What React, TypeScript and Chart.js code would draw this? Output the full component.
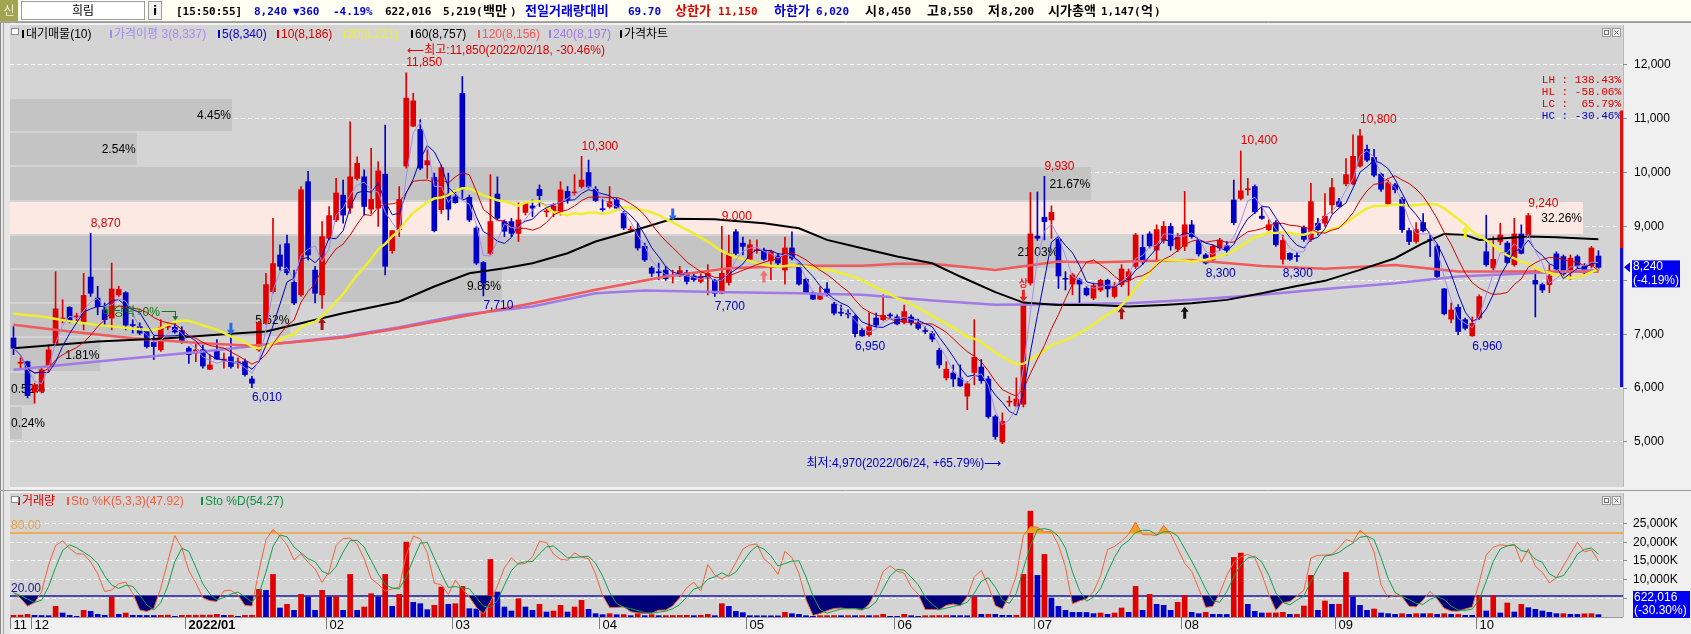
import React, { useEffect, useRef } from 'react';
import { Chart, registerables } from 'chart.js';

Chart.register(...registerables);

// ---------------- DATA ----------------
const monthLabels = ['11', '12', '2022/01', '02', '03', '04', '05', '06', '07', '08', '09', '10'];
const monthDays = [3, 22, 20, 18, 21, 21, 21, 20, 21, 22, 20, 18];

const opens = [
  6930, 6460, 6490, 5930, 5940, 6410, 6830, 7280, 7500, 7320,
  7220, 8060, 7670, 7450, 7300, 7730, 7770, 7170, 7140, 7050,
  6850, 6710, 7130, 7130, 7070, 6740, 6650, 6710, 6350, 6680,
  6520, 6580, 6470, 6490, 6170, 6710, 7210, 7790, 8470, 8680,
  7960, 7730, 9830, 8190, 7730, 8780, 9120, 9580, 9340, 9890,
  9920, 9320, 9340, 9970, 8550, 8940, 10120, 10860, 10800, 10140,
  9910, 9310, 9600, 9550, 11470, 9540, 8970, 8330, 8500, 9600,
  9090, 9090, 8870, 9260, 9380, 9690, 9270, 9280, 9280, 9650,
  9620, 9740, 10000, 9690, 9320, 9370, 9490, 9240, 8930, 8940,
  8630, 8230, 8150, 8190, 8080, 8080, 8140, 8080, 7980, 8040,
  8000, 7760, 7960, 8900, 8690, 8390, 8550, 8560, 8360, 8450,
  8190, 8600, 8300, 8020, 7770, 7650, 7840, 7560, 7400, 7380,
  7330, 7070, 6990, 7300, 7270, 7350, 7320, 7220, 7320, 7210,
  7060, 7010, 6700, 6190, 6280, 6190, 5850, 6290, 6390, 6170,
  5470, 5000, 5740, 5670, 5700, 7950, 8820, 9170, 9120, 8760,
  8030, 7930, 8010, 7850, 7670, 7820, 8000, 7700, 7920, 8010,
  8260, 8610, 8860, 8560, 8740, 9000, 8580, 8630, 9030, 8740,
  8470, 8390, 8600, 8640, 9490, 9520, 9680, 9740, 9190, 8940,
  9070, 8390, 8500, 8450, 8980, 8760, 9060, 9060, 9400, 9460,
  9790, 9790, 10120, 10430, 10280, 9970, 9420, 9770, 9500, 8920,
  8720, 9070, 8750, 8630, 7840, 7280, 7500, 7270, 6970, 7300,
  8530, 8230, 8720, 8690, 8290, 8860, 8840, 8000, 7920, 7920,
  8490, 8440, 8180, 8440, 8260, 8270, 8450,
];
const highs = [
  7140, 6560, 6500, 6090, 6370, 6800, 8160, 7640, 7510, 7390,
  8130, 8870, 7890, 7580, 8320, 7890, 7790, 7270, 7210, 7080,
  6960, 7270, 7210, 7240, 7140, 6770, 6820, 6800, 6620, 6900,
  6650, 6990, 6560, 6540, 6220, 7240, 8130, 9150, 8660, 8840,
  8190, 9740, 10020, 8260, 9090, 9370, 9890, 9860, 10940, 10290,
  10050, 10450, 10200, 10880, 8920, 9740, 11850, 11470, 10980, 10420,
  9990, 10140, 9990, 9680, 11780, 9580, 9000, 8350, 9960, 9920,
  9120, 9150, 9440, 9440, 9490, 9770, 9340, 9430, 9830, 9740,
  9960, 10300, 10230, 9740, 9500, 9740, 9520, 9280, 9000, 9060,
  8690, 8260, 8320, 8260, 8190, 8260, 8190, 8130, 8120, 8290,
  8020, 9000, 8840, 8940, 8800, 8750, 8750, 8600, 8560, 8500,
  8800, 8900, 8320, 8040, 7790, 7880, 7960, 7590, 7540, 7450,
  7360, 7110, 7400, 7390, 7730, 7390, 7360, 7540, 7360, 7280,
  7140, 7050, 6740, 6490, 6430, 6430, 6120, 7270, 6530, 6220,
  5500, 5540, 5850, 6190, 7540, 9630, 9640, 9930, 9380, 8810,
  8160, 8130, 8040, 7880, 7950, 8020, 8020, 7960, 8290, 8210,
  8870, 8840, 8900, 9030, 9090, 9060, 8870, 9650, 9110, 8760,
  8500, 8660, 8780, 8720, 9860, 10400, 9890, 9770, 9380, 9120,
  9110, 8840, 8510, 8510, 9010, 9800, 9150, 9610, 9890, 9520,
  10260, 10700, 10800, 10510, 10430, 9990, 9860, 9800, 9540, 8970,
  9070, 9240, 8840, 8660, 7850, 7580, 7550, 7300, 7320, 7730,
  9210, 8810, 9060, 8720, 9150, 9030, 9240, 8190, 7950, 8290,
  8530, 8470, 8470, 8470, 8310, 8630, 8550,
];
const lows = [
  6620, 6370, 5820, 5720, 5910, 6310, 6800, 7210, 7210, 7240,
  7080, 7700, 7360, 7140, 7080, 7700, 7080, 7020, 6990, 6740,
  6530, 6680, 7080, 7020, 6830, 6460, 6490, 6370, 6340, 6530,
  6370, 6370, 6370, 6220, 6010, 6680, 7180, 7760, 8190, 8100,
  7550, 7700, 8380, 7580, 7480, 8750, 9090, 9060, 9240, 9860,
  9210, 9240, 9000, 8100, 8500, 8810, 10080, 10850, 10050, 9890,
  8900, 9240, 9120, 9430, 9520, 9090, 8290, 7710, 8470, 9120,
  8810, 8810, 8720, 9210, 9180, 9370, 9180, 9180, 9210, 9430,
  9580, 9710, 9710, 9460, 9280, 9340, 9290, 8940, 8900, 8560,
  8350, 8070, 8010, 8000, 7950, 8070, 7930, 7980, 7950, 7730,
  7700, 7750, 7910, 8470, 8470, 8380, 8500, 8370, 8010, 8290,
  7930, 8380, 7910, 7750, 7640, 7640, 7700, 7360, 7340, 7300,
  6950, 6960, 6960, 7140, 7250, 7300, 7170, 7190, 7170, 7080,
  7010, 6860, 6370, 6150, 6030, 6030, 5600, 6060, 6090, 5440,
  5050, 4970, 5660, 5650, 5650, 7910, 8740, 8750, 8780, 7850,
  7820, 7730, 7560, 7710, 7640, 7790, 7690, 7670, 7880, 7700,
  8220, 8290, 8600, 8380, 8690, 8560, 8530, 8550, 8780, 8450,
  8300, 8350, 8550, 8470, 9030, 9490, 9580, 9240, 9130, 8920,
  8630, 8300, 8370, 8350, 8720, 8720, 8840, 9000, 9240, 9360,
  9750, 9770, 10100, 10200, 9920, 9650, 9380, 9620, 8890, 8660,
  8690, 8900, 8440, 8040, 7360, 7210, 6990, 7080, 6960, 7270,
  8260, 8190, 8660, 8310, 8260, 8490, 8810, 7320, 7770, 7770,
  8180, 8070, 8020, 8230, 8100, 8230, 8200,
];
const closes = [
  6740, 6480, 5860, 6050, 6340, 6710, 7470, 7300, 7240, 7330,
  7720, 7760, 7510, 7270, 7840, 7830, 7170, 7160, 7020, 6770,
  6770, 7130, 7140, 7040, 6870, 6620, 6710, 6410, 6430, 6540,
  6530, 6400, 6480, 6250, 6090, 7210, 7920, 8310, 8260, 8140,
  7580, 9680, 8470, 7760, 8810, 9200, 9620, 9210, 9920, 10170,
  9370, 9500, 10030, 8260, 8920, 9500, 11380, 11330, 10080, 10220,
  8920, 10090, 9320, 9440, 9680, 9120, 8320, 7950, 9090, 9150,
  8910, 8870, 9120, 9430, 9340, 9570, 9280, 9380, 9680, 9500,
  9630, 9860, 9740, 9480, 9310, 9460, 9340, 8970, 8940, 8600,
  8380, 8130, 8140, 8030, 8090, 8180, 7980, 8010, 8060, 8130,
  7760, 8130, 8490, 8500, 8630, 8660, 8560, 8390, 8530, 8320,
  8600, 8410, 7930, 7770, 7650, 7730, 7730, 7390, 7390, 7370,
  7010, 6970, 7140, 7170, 7350, 7340, 7190, 7420, 7210, 7110,
  7050, 6910, 6430, 6350, 6170, 6040, 6080, 6570, 6140, 5470,
  5100, 5380, 5750, 5800, 7540, 8860, 8780, 9090, 9260, 8080,
  8020, 8100, 7930, 7730, 7900, 8000, 7840, 7880, 8210, 8160,
  8840, 8380, 8640, 8940, 9000, 8640, 8800, 9030, 8810, 8490,
  8320, 8630, 8750, 8560, 9070, 9660, 9690, 9270, 9150, 9030,
  8660, 8740, 8390, 8440, 8760, 9460, 8940, 9190, 9720, 9370,
  9960, 10300, 10680, 10230, 9950, 9690, 9810, 9680, 8940, 8720,
  8940, 8920, 8740, 8070, 7380, 7450, 7050, 7110, 7200, 7700,
  8290, 8390, 8840, 8330, 8860, 8500, 9200, 7930, 7820, 8080,
  8210, 8120, 8410, 8270, 8140, 8600, 8240,
];
// volume in thousands of shares
const volumesK = [
  445, 490, 712, 445, 400, 356, 2848, 1068, 445, 178,
  1780, 1513, 712, 445, 5340, 712, 1068, 445, 427, 409,
  391, 445, 490, 178, 445, 463, 481, 499, 517, 712,
  445, 463, 178, 445, 463, 7387, 7120, 11392, 2403, 3382,
  1780, 6052, 5340, 1780, 7120, 5340, 5430, 1780, 11392, 1780,
  2670, 6230, 5340, 11392, 2848, 6052, 20025, 3916, 3560, 1958,
  3115, 8010, 3382, 3560, 8188, 2225, 2136, 5162, 15397, 6675,
  2670, 1602, 4895, 2670, 1780, 3382, 1335, 1602, 3115, 1335,
  2670, 4450, 2047, 890, 623, 890, 623, 650, 356, 890,
  356, 623, 356, 380, 400, 420, 440, 356, 445, 712,
  356, 3560, 2848, 1513, 1157, 356, 340, 330, 320, 310,
  1246, 890, 712, 356, 178, 356, 370, 385, 356, 380,
  356, 370, 356, 380, 712, 178, 170, 712, 356, 178,
  356, 370, 385, 400, 380, 360, 340, 5340, 712, 730,
  712, 445, 430, 460, 11392, 28302, 11125, 16732, 5073, 2848,
  1780, 1246, 1230, 1210, 890, 1068, 712, 1068, 2403, 1246,
  8188, 1780, 6052, 3382, 3115, 1780, 3916, 5696, 1246, 890,
  1246, 712, 700, 690, 15931, 17088, 3382, 1513, 1068, 1080,
  1100, 1246, 712, 730, 2937, 11125, 1780, 4272, 3382, 3400,
  11926, 5340, 3115, 1780, 2136, 1068, 890, 712, 890, 712,
  890, 880, 900, 712, 890, 712, 730, 445, 440, 5696,
  1602, 5696, 1068, 3738, 1335, 3382, 2492, 2047, 1602, 1246,
  890, 900, 712, 700, 850, 892.418, 622.016,
];

// moving averages: [candle index, price]
const ma20Early = [[0, 7380], [4, 7330], [8, 7240], [12, 7170], [16, 7120]];
const ma60Read = [
  [0, 6740], [12, 6865], [22, 6927], [31, 7007], [36, 7051], [41, 7205], [47, 7390], [55, 7607],
  [60, 7885], [65, 8132], [70, 8225], [74, 8318], [79, 8503], [83, 8719], [88, 8904], [94, 9140],
  [100, 9133], [102, 9108], [107, 9059], [112, 8966], [116, 8750], [121, 8595], [126, 8440],
  [131, 8317], [135, 8070], [140, 7780], [144, 7587], [149, 7544], [154, 7544], [159, 7513],
  [164, 7544], [168, 7575], [173, 7637], [178, 7760], [183, 7896], [187, 7990], [192, 8194],
  [197, 8410], [201, 8688], [204, 8861], [207, 8843], [209, 8750], [216, 8812], [220, 8799], [226, 8760],
];
const ma120Read = [
  [0, 7174], [8, 7051], [17, 6927], [27, 6834], [34, 6785], [41, 6865], [47, 6940], [55, 7112],
  [64, 7329], [74, 7576], [83, 7823], [93, 8070], [102, 8224], [112, 8268], [121, 8268], [126, 8305],
  [131, 8305], [135, 8255], [140, 8193], [149, 8348], [154, 8329], [159, 8348], [168, 8378],
  [178, 8267], [187, 8215], [197, 8286], [206, 8163], [216, 8163], [226, 8160],
];
const ma240Read = [
  [0, 6340], [12, 6494], [27, 6680], [36, 6803], [47, 6958], [55, 7131], [64, 7360], [74, 7514],
  [83, 7761], [90, 7811], [102, 7779], [112, 7761], [121, 7730], [131, 7625], [140, 7545],
  [149, 7557], [159, 7575], [168, 7637], [178, 7730], [187, 7840], [197, 7946], [206, 8070],
  [216, 8132], [226, 8190],
];

const priceTicks = [5000, 6000, 7000, 8000, 9000, 10000, 11000, 12000];
const volumeTicks = [5000, 10000, 15000, 20000, 25000];

// supply zones (대기매물): price edges and share of traded volume (%)
const supplyEdges = [5040, 5674, 6308, 6942, 7576, 8210, 8844, 9478, 10112, 10746, 11380];
const supplyPct = [0.24, 0.52, 1.81, 5.62, 9.86, 21.03, 32.26, 21.67, 2.54, 4.45];

const highMarks = [11, 56, 81, 101, 147, 175, 192, 216];
const lowMarks = [34, 67, 100, 120, 170, 181, 208];
const highDate = '2022/02/18';
const lowDate = '2022/06/24';

const signals = [
  { i: 31, price: 6990, kind: 'blueDown' },
  { i: 94, price: 9110, kind: 'blueDown' },
  { i: 44, price: 7300, kind: 'redUp' },
  { i: 107, price: 8180, kind: 'pinkUp' },
  { i: 158, price: 7500, kind: 'redUp' },
  { i: 167, price: 7510, kind: 'blackUp' },
  { i: 144, price: 7600, kind: 'limitUp' },
  { i: 207, price: 8995, kind: 'yellowUp' },
];
const exDividend = { i: 23, text: '배당락+0%' };

const upperLimit = 11150;
const lowerLimit = 6020;

const maLegendTexts = ['대기매물(10)', '가격이평 3(8,337)', '5(8,340)', '10(8,186)', '20(8,221)', '60(8,757)', '120(8,156)', '240(8,197)', '가격차트'];
const subLegendTexts = ['거래량', 'Sto %K(5,3,3)(47.92)', 'Sto %D(54.27)'];

const stockName = '희림';
const headerTokens: [number, string, string, string][] = [
  [176, '[15:50:55]', 'k0', 'a'],
  [254, '8,240', 'b', 'a'],
  [293, '▼360', 'b', 'a'],
  [333, '-4.19%', 'b', 'a'],
  [385, '622,016', 'k0', 'a'],
  [443, '5,219(', 'k0', 'a'],
  [483, '백만', 'k0', 'k'],
  [510, ')', 'k0', 'a'],
  [525, '전일거래량대비', 'b', 'k'],
  [628, '69.70', 'b', 'a'],
  [675, '상한가', 'r', 'k'],
  [718, '11,150', 'r', 'a'],
  [774, '하한가', 'b', 'k'],
  [816, '6,020', 'b', 'a'],
  [865, '시', 'k0', 'k'],
  [878, '8,450', 'k0', 'a'],
  [927, '고', 'k0', 'k'],
  [940, '8,550', 'k0', 'a'],
  [988, '저', 'k0', 'k'],
  [1001, '8,200', 'k0', 'a'],
  [1048, '시가총액', 'k0', 'k'],
  [1101, '1,147(', 'k0', 'a'],
  [1141, '억', 'k0', 'k'],
  [1154, ')', 'k0', 'a'],
];

// ---------------- STYLE / LAYOUT ----------------
const FONT = '"Liberation Sans", "Noto Sans CJK KR", sans-serif';
const MONO = '"Liberation Mono", "DejaVu Sans Mono", monospace';
const RED = '#E00000';
const BLUE = '#0000C8';
const PLOT_BG = '#D4D4D4';
const AXIS_BG = '#F0F0F0';
const N = closes.length;
const X_MIN = -0.5;
const X_MAX = N + 2.5;
const maColors = ['#000000', '#A58CF0', '#0000C8', '#D80000', '#EEEE30', '#000000', '#F05A5A', '#A07AE6', '#000000'];
const maLegendX = [26, 114, 222, 281, 347, 415, 482, 553, 624];
const subLegendColors = ['#E00000', '#F06040', '#109040'];
const subLegendX = [22, 71, 205];
const signalStyle: Record<string, { color: string; dir: number }> = {
  blueDown: { color: '#2A6AEA', dir: -1 },
  redUp: { color: '#A51515', dir: 1 },
  pinkUp: { color: '#F07070', dir: 1 },
  blackUp: { color: '#111111', dir: 1 },
  limitUp: { color: '#E82828', dir: -1 },
  yellowUp: { color: '#EEEE20', dir: 1 },
};
const tokenColor: Record<string, string> = { k0: '#000000', b: '#0000E0', r: '#E00000' };

const fmt = (v: number) => Math.round(v).toLocaleString('en-US');

function movingAvg(n: number) {
  return closes.map((_, i) => {
    const s = Math.max(0, i - n + 1);
    let sum = 0;
    for (let j = s; j <= i; j++) sum += closes[j];
    return sum / (i - s + 1);
  });
}

function stochastic() {
  const num: number[] = [];
  const den: number[] = [];
  closes.forEach((c, i) => {
    const s = Math.max(0, i - 4);
    const hh = Math.max(...highs.slice(s, i + 1));
    const ll = Math.min(...lows.slice(s, i + 1));
    num.push(c - ll);
    den.push(hh - ll);
  });
  const k = closes.map((_, i) => {
    let a = 0, b = 0;
    for (let j = Math.max(0, i - 2); j <= i; j++) { a += num[j]; b += den[j]; }
    return b === 0 ? 50 : (a / b) * 100;
  });
  const d = k.map((_, i) => {
    const s = Math.max(0, i - 2);
    const arr = k.slice(s, i + 1);
    return arr.reduce((p, q) => p + q, 0) / arr.length;
  });
  return { k, d };
}

const toPts = (arr: number[]) => arr.map((v, i) => ({ x: i, y: v }));
const pairPts = (arr: number[][]) => arr.map(([x, y]) => ({ x, y }));

function hline(ctx: CanvasRenderingContext2D, x1: number, x2: number, y: number) {
  ctx.beginPath(); ctx.moveTo(x1, y); ctx.lineTo(x2, y); ctx.stroke();
}
function vline(ctx: CanvasRenderingContext2D, x: number, y1: number, y2: number) {
  ctx.beginPath(); ctx.moveTo(x, y1); ctx.lineTo(x, y2); ctx.stroke();
}

function drawFrame(ctx: CanvasRenderingContext2D, a: any, width: number, height: number) {
  ctx.fillStyle = AXIS_BG;
  ctx.fillRect(0, 0, width, height);
  ctx.fillStyle = PLOT_BG;
  ctx.fillRect(a.left, a.top, a.right - a.left, a.bottom - a.top);
  ctx.fillStyle = '#E6E6E6';
  ctx.fillRect(0, 0, a.left, height);
  ctx.strokeStyle = '#8E8E8E';
  ctx.lineWidth = 1;
  vline(ctx, 0.5, 0, height);
  ctx.strokeStyle = '#A8A8A8';
  vline(ctx, 3.5, 0, height);
  ctx.strokeStyle = '#9C9C9C';
  hline(ctx, 0, width, 0.5);
  ctx.strokeStyle = '#B8B8B8';
  vline(ctx, a.right + 0.5, a.top, a.bottom);
}

function drawIcons(ctx: CanvasRenderingContext2D, a: any) {
  ctx.lineWidth = 1;
  ctx.fillStyle = '#FFFFFF';
  ctx.fillRect(a.left + 1, a.top + 3, 7, 6);
  ctx.strokeStyle = '#8C8C8C';
  ctx.strokeRect(a.left + 1.5, a.top + 3.5, 7, 6);
  const x0 = a.right - 21;
  const y0 = a.top + 3;
  ctx.fillStyle = '#F6F6F6';
  ctx.fillRect(x0, y0, 9, 9);
  ctx.fillRect(x0 + 10, y0, 9, 9);
  ctx.strokeStyle = '#9A9A9A';
  ctx.strokeRect(x0 + 0.5, y0 + 0.5, 8, 8);
  ctx.strokeRect(x0 + 10.5, y0 + 0.5, 8, 8);
  ctx.strokeStyle = '#707070';
  ctx.strokeRect(x0 + 2.5, y0 + 2.5, 4, 4);
  ctx.beginPath();
  ctx.moveTo(x0 + 12.5, y0 + 2.5); ctx.lineTo(x0 + 16.5, y0 + 6.5);
  ctx.moveTo(x0 + 16.5, y0 + 2.5); ctx.lineTo(x0 + 12.5, y0 + 6.5);
  ctx.stroke();
}

function drawLegend(ctx: CanvasRenderingContext2D, texts: string[], colors: string[], xs: number[], y: number) {
  ctx.font = `12px ${FONT}`;
  ctx.textAlign = 'left';
  ctx.textBaseline = 'middle';
  texts.forEach((t, k) => {
    ctx.fillStyle = colors[k];
    ctx.fillRect(xs[k] - 4, y - 4, 2, 8);
    ctx.fillText(t, xs[k], y + 0.5);
  });
}

function drawArrow(ctx: CanvasRenderingContext2D, x: number, yTip: number, dir: number, color: string) {
  ctx.fillStyle = color;
  ctx.beginPath();
  ctx.moveTo(x, yTip);
  ctx.lineTo(x - 4, yTip + 5 * dir);
  ctx.lineTo(x - 1.5, yTip + 5 * dir);
  ctx.lineTo(x - 1.5, yTip + 12 * dir);
  ctx.lineTo(x + 1.5, yTip + 12 * dir);
  ctx.lineTo(x + 1.5, yTip + 5 * dir);
  ctx.lineTo(x + 4, yTip + 5 * dir);
  ctx.closePath();
  ctx.fill();
}

function fixAxis(s: any) {
  s.width = 68;
  s.paddingTop = 0;
  s.paddingBottom = 0;
}

const mainDecor = {
  id: 'mainDecor',
  beforeDraw(chart: any) {
    const { ctx, chartArea: a, width, height } = chart;
    ctx.save();
    drawFrame(ctx, a, width, height);
    ctx.restore();
  },
  beforeDatasetsDraw(chart: any) {
    const { ctx, chartArea: a } = chart;
    const ys = chart.scales.y;
    const w = a.right - a.left;
    const unit = w / 32.33;
    const maxPct = Math.max(...supplyPct);
    ctx.save();
    ctx.font = `12px ${FONT}`;
    ctx.textAlign = 'right';
    ctx.textBaseline = 'middle';
    supplyPct.forEach((p, k) => {
      const yTop = Math.round(ys.getPixelForValue(supplyEdges[k + 1])) + 1;
      const yBot = Math.round(ys.getPixelForValue(supplyEdges[k])) - 1;
      const end = a.left + Math.min(p * unit, w - 40);
      ctx.fillStyle = p === maxPct ? '#FCE9E4' : '#C4C4C4';
      ctx.fillRect(a.left, yTop, end - a.left, yBot - yTop);
      ctx.fillStyle = '#000000';
      const label = p.toFixed(2) + '%';
      const tx = Math.max(end - 1, a.left + ctx.measureText(label).width + 1);
      ctx.fillText(label, tx, (yTop + yBot) / 2 + 1);
    });
    ctx.restore();
  },
  afterDatasetsDraw(chart: any) {
    const { ctx, chartArea: a } = chart;
    const xs = chart.scales.x;
    const ys = chart.scales.y;
    ctx.save();
    ctx.font = `12px ${FONT}`;
    ctx.textAlign = 'left';
    ctx.textBaseline = 'middle';
    highMarks.forEach((i) => {
      ctx.fillStyle = RED;
      ctx.fillText(fmt(highs[i]), xs.getPixelForValue(i), ys.getPixelForValue(highs[i]) - 10);
    });
    lowMarks.forEach((i) => {
      ctx.fillStyle = BLUE;
      ctx.fillText(fmt(lows[i]), xs.getPixelForValue(i), ys.getPixelForValue(lows[i]) + 10);
    });
    const maxH = Math.max(...highs);
    const minL = Math.min(...lows);
    const iMax = highs.indexOf(maxH);
    const iMin = lows.indexOf(minL);
    const last = closes[N - 1];
    const hc = ((last - maxH) / maxH) * 100;
    const lc = ((last - minL) / minL) * 100;
    const lh = ((maxH - minL) / minL) * 100;
    const hl = ((minL - maxH) / maxH) * 100;
    ctx.fillStyle = RED;
    ctx.fillText(`⟵최고:${fmt(maxH)}(${highDate}, ${hc.toFixed(2)}%)`, xs.getPixelForValue(iMax) + 1, ys.getPixelForValue(maxH) - 22);
    ctx.fillStyle = BLUE;
    ctx.textAlign = 'right';
    ctx.fillText(`최저:${fmt(minL)}(${lowDate}, +${lc.toFixed(2)}%)⟶`, xs.getPixelForValue(iMin) - 1, ys.getPixelForValue(minL) + 20);
    ctx.font = `11px ${MONO}`;
    const stats = [
      ['LH : ' + lh.toFixed(2) + '%', RED],
      ['HL : ' + hl.toFixed(2) + '%', RED],
      ['LC :  ' + lc.toFixed(2) + '%', RED],
      ['HC : ' + hc.toFixed(2) + '%', BLUE],
    ];
    stats.forEach(([t, c], k) => {
      ctx.fillStyle = c;
      ctx.fillText(t, a.right - 2, a.top + 55 + k * 12);
    });
    signals.forEach((s) => {
      const st = signalStyle[s.kind];
      const x = xs.getPixelForValue(s.i);
      const y = ys.getPixelForValue(s.price);
      drawArrow(ctx, x, y, st.dir, st.color);
      if (s.kind === 'limitUp') {
        ctx.font = `bold 10px ${FONT}`;
        ctx.textAlign = 'center';
        ctx.fillStyle = st.color;
        ctx.fillText('상', x, y - 18);
      }
    });
    {
      const x = xs.getPixelForValue(exDividend.i);
      const yTip = ys.getPixelForValue(highs[exDividend.i]) - 1;
      const yc = yTip - 9;
      ctx.strokeStyle = '#0A7A0A';
      ctx.fillStyle = '#0A7A0A';
      ctx.lineWidth = 1;
      hline(ctx, x - 13, x + 0.5, Math.round(yc) + 0.5);
      vline(ctx, Math.round(x) + 0.5, Math.round(yc), yTip - 3);
      ctx.beginPath();
      ctx.moveTo(x - 2.5, yTip - 4); ctx.lineTo(x + 3.5, yTip - 4); ctx.lineTo(x + 0.5, yTip); ctx.closePath(); ctx.fill();
      ctx.font = `12px ${FONT}`;
      ctx.textAlign = 'right';
      ctx.fillText(exDividend.text, x - 15, yc + 1);
    }
    const prevClose = closes[N - 2];
    const yU = ys.getPixelForValue(upperLimit);
    const yP = ys.getPixelForValue(prevClose);
    const yL = ys.getPixelForValue(lowerLimit);
    ctx.fillStyle = '#E01010';
    ctx.fillRect(a.right - 3, yU, 3, yP - yU);
    ctx.fillStyle = '#1010D0';
    ctx.fillRect(a.right - 3, yP, 3, yL - yP);
    drawLegend(ctx, maLegendTexts, maColors, maLegendX, a.top + 9);
    drawIcons(ctx, a);
    const yc = ys.getPixelForValue(last);
    ctx.fillStyle = '#0000F0';
    ctx.beginPath();
    ctx.moveTo(a.right + 1, yc); ctx.lineTo(a.right + 7, yc - 5); ctx.lineTo(a.right + 7, yc + 5); ctx.closePath(); ctx.fill();
    ctx.fillRect(a.right + 9, yc - 7, 48, 27);
    ctx.fillStyle = '#FFFFFF';
    ctx.font = `12px ${FONT}`;
    ctx.textAlign = 'left';
    ctx.textBaseline = 'middle';
    ctx.fillText(fmt(last), a.right + 10, yc - 0.5);
    ctx.fillText(`(${(((last - prevClose) / prevClose) * 100).toFixed(2)}%)`, a.right + 10, yc + 13);
    ctx.restore();
  },
};

const subDecor = {
  id: 'subDecor',
  beforeDraw(chart: any) {
    const { ctx, chartArea: a, width, height } = chart;
    ctx.save();
    drawFrame(ctx, a, width, height);
    ctx.strokeStyle = '#9A9A9A';
    hline(ctx, a.left, a.right, a.bottom + 0.5);
    ctx.restore();
  },
  beforeDatasetsDraw(chart: any) {
    const { ctx, chartArea: a } = chart;
    const y2 = chart.scales.y2;
    ctx.save();
    ctx.lineWidth = 1.5;
    ctx.strokeStyle = '#F2A035';
    hline(ctx, a.left, a.right, y2.getPixelForValue(80));
    ctx.strokeStyle = '#1A1AA0';
    hline(ctx, a.left, a.right, y2.getPixelForValue(20));
    ctx.restore();
  },
  afterDatasetsDraw(chart: any) {
    const { ctx, chartArea: a } = chart;
    const y2 = chart.scales.y2;
    ctx.save();
    ctx.font = `12px ${FONT}`;
    ctx.textAlign = 'left';
    ctx.textBaseline = 'middle';
    ctx.fillStyle = '#E8A040';
    ctx.fillText('80.00', a.left + 1, y2.getPixelForValue(80) - 7);
    ctx.fillStyle = '#1A1A8A';
    ctx.fillText('20.00', a.left + 1, y2.getPixelForValue(20) - 7);
    drawLegend(ctx, subLegendTexts, subLegendColors, subLegendX, a.top + 8);
    drawIcons(ctx, a);
    ctx.restore();
  },
  afterDraw(chart: any) {
    const { ctx, chartArea: a } = chart;
    const xs = chart.scales.x;
    ctx.save();
    let s = 0;
    monthLabels.forEach((lab, k) => {
      const x = Math.round(xs.getPixelForValue(s - 0.5)) + 0.5;
      ctx.strokeStyle = '#7C7C7C';
      ctx.lineWidth = 1;
      vline(ctx, x, a.bottom, a.bottom + 12);
      ctx.font = (lab.includes('/') ? 'bold ' : '') + `13px ${FONT}`;
      ctx.fillStyle = '#000000';
      ctx.textAlign = 'left';
      ctx.textBaseline = 'middle';
      ctx.fillText(lab, x + 3, a.bottom + 8);
      s += monthDays[k];
    });
    const lastV = volumesK[N - 1];
    const prevV = volumesK[N - 2];
    ctx.fillStyle = '#0000F0';
    ctx.fillRect(a.right + 10, a.bottom - 26, 57, 27);
    ctx.fillStyle = '#FFFFFF';
    ctx.font = `12px ${FONT}`;
    ctx.fillText(fmt(lastV * 1000), a.right + 11, a.bottom - 19);
    ctx.fillText(`(${(((lastV - prevV) / prevV) * 100).toFixed(2)}%)`, a.right + 11, a.bottom - 6);
    ctx.restore();
  },
};

function baseX() {
  return { type: 'linear', min: X_MIN, max: X_MAX, offset: false, display: false, grid: { display: false } };
}

function mainConfig(): any {
  const idx = closes.map((_, i) => i);
  const col = idx.map((i) => (closes[i] >= opens[i] ? RED : BLUE));
  const ma20Full = movingAvg(20);
  const ma20Pts = [...pairPts(ma20Early), ...idx.filter((i) => i >= 19).map((i) => ({ x: i, y: ma20Full[i] }))];
  const line = (data: any[], color: string, width: number, order: number) => ({
    type: 'line', data, borderColor: color, borderWidth: width, pointRadius: 0, tension: 0, order,
  });
  return {
    type: 'bar',
    data: {
      datasets: [
        line(toPts(movingAvg(3)), '#A58CF0', 1, 0),
        line(toPts(movingAvg(5)), '#0000C8', 1, 1),
        line(toPts(movingAvg(10)), '#D80000', 1, 2),
        line(ma20Pts, '#EEEE30', 2.5, 3),
        line(pairPts(ma60Read), '#000000', 2, 4),
        line(pairPts(ma120Read), '#F05A5A', 2.5, 5),
        line(pairPts(ma240Read), '#A07AE6', 2.5, 6),
        {
          type: 'bar', data: idx.map((i) => ({ x: i, y: [lows[i], highs[i]] })),
          backgroundColor: col, barThickness: 1, grouped: false, order: 11, borderWidth: 0,
        },
        {
          type: 'bar', data: idx.map((i) => ({ x: i, y: [Math.min(opens[i], closes[i]), Math.max(opens[i], closes[i])] })),
          backgroundColor: col, barThickness: 5, grouped: false, minBarLength: 1, order: 10, borderWidth: 0,
        },
      ],
    },
    options: {
      responsive: false, animation: false, events: [],
      layout: { padding: { left: 10, top: 3, right: 0, bottom: 3 }, autoPadding: false },
      plugins: { legend: { display: false }, tooltip: { enabled: false } },
      scales: {
        x: baseX(),
        y: {
          type: 'linear', position: 'right', min: 4165, max: 12737,
          afterBuildTicks: (s: any) => { s.ticks = priceTicks.map((v) => ({ value: v })); },
          afterFit: fixAxis,
          ticks: { font: { family: FONT, size: 12 }, color: '#000000', padding: 7, callback: (v: any) => fmt(Number(v)) },
          grid: { color: 'rgba(255,255,255,0.95)', lineWidth: 1, tickLength: 4, tickColor: '#8C8C8C', tickBorderDash: [] },
          border: { display: false, dash: [4, 3] },
        },
      },
    },
    plugins: [mainDecor],
  };
}

function subConfig(): any {
  const idx = closes.map((_, i) => i);
  const { k, d } = stochastic();
  const vcol = idx.map((i) => (i === 0 || volumesK[i] > volumesK[i - 1] ? '#E00000' : '#0000C8'));
  return {
    type: 'bar',
    data: {
      datasets: [
        {
          type: 'line', data: toPts(k), yAxisID: 'y2', borderColor: '#F26535', borderWidth: 1, pointRadius: 0, tension: 0, order: 1,
          fill: { target: { value: 20 }, above: 'rgba(0,0,0,0)', below: '#00007A' },
        },
        {
          type: 'line', data: toPts(k), yAxisID: 'y2', borderColor: 'rgba(0,0,0,0)', borderWidth: 0, pointRadius: 0, tension: 0, order: 2,
          fill: { target: { value: 80 }, above: '#F5A020', below: 'rgba(0,0,0,0)' },
        },
        { type: 'line', data: toPts(d), yAxisID: 'y2', borderColor: '#12A04A', borderWidth: 1, pointRadius: 0, tension: 0, order: 0 },
        {
          type: 'bar', data: idx.map((i) => ({ x: i, y: volumesK[i] })), yAxisID: 'y',
          backgroundColor: vcol, barThickness: 5, grouped: false, order: 10, borderWidth: 0,
        },
      ],
    },
    options: {
      responsive: false, animation: false, events: [],
      layout: { padding: { left: 10, top: 3, right: 0, bottom: 17 }, autoPadding: false },
      plugins: { legend: { display: false }, tooltip: { enabled: false } },
      scales: {
        x: baseX(),
        y: {
          type: 'linear', position: 'right', min: 0, max: 33150,
          afterBuildTicks: (s: any) => { s.ticks = volumeTicks.map((v) => ({ value: v })); },
          afterFit: fixAxis,
          ticks: { font: { family: FONT, size: 12 }, color: '#000000', padding: 6, callback: (v: any) => fmt(Number(v)) + 'K' },
          grid: { color: 'rgba(255,255,255,0.95)', lineWidth: 1, tickLength: 4, tickColor: '#8C8C8C', tickBorderDash: [] },
          border: { display: false, dash: [4, 3] },
        },
        y2: { type: 'linear', display: false, min: 0, max: 118 },
      },
    },
    plugins: [subDecor],
  };
}

function drawHeader(cv: HTMLCanvasElement) {
  const ctx = cv.getContext('2d') as CanvasRenderingContext2D;
  const W = cv.width;
  ctx.fillStyle = '#FFFFF3';
  ctx.fillRect(0, 0, W, 22);
  ctx.strokeStyle = '#A8A8A8';
  ctx.lineWidth = 1;
  hline(ctx, 0, W, 21.5);
  ctx.fillStyle = '#A2A450';
  ctx.fillRect(0, 0, 18, 21);
  ctx.fillStyle = '#F4F4DC';
  ctx.font = '12px "Noto Sans CJK KR", sans-serif';
  ctx.textAlign = 'center';
  ctx.textBaseline = 'alphabetic';
  ctx.fillText('신', 9, 15);
  ctx.fillStyle = '#FFFFFF';
  ctx.fillRect(21, 1, 124, 19);
  ctx.strokeStyle = '#9C9C9C';
  ctx.strokeRect(21.5, 1.5, 123, 18);
  ctx.fillStyle = '#000000';
  ctx.fillText(stockName, 83, 15);
  ctx.fillStyle = '#F2F2F2';
  ctx.fillRect(148, 1, 14, 19);
  ctx.strokeRect(148.5, 1.5, 13, 18);
  ctx.fillStyle = '#000000';
  ctx.font = 'bold 12px "DejaVu Sans", sans-serif';
  ctx.fillText('i', 155, 15);
  ctx.textAlign = 'left';
  headerTokens.forEach(([x, text, c, kind]) => {
    ctx.font = kind === 'a' ? 'bold 11px "DejaVu Sans Mono", monospace' : 'bold 13px "Noto Sans CJK KR", sans-serif';
    ctx.fillStyle = tokenColor[c];
    ctx.fillText(text, x, 15);
  });
}

export default function App() {
  const headRef = useRef<HTMLCanvasElement>(null);
  const mainRef = useRef<HTMLCanvasElement>(null);
  const subRef = useRef<HTMLCanvasElement>(null);
  useEffect(() => {
    drawHeader(headRef.current as HTMLCanvasElement);
    const m = new Chart(mainRef.current as HTMLCanvasElement, mainConfig());
    const s = new Chart(subRef.current as HTMLCanvasElement, subConfig());
    return () => { m.destroy(); s.destroy(); };
  }, []);
  return (
    <div style={{ position: 'absolute', left: 0, top: 0, width: 1691, height: 634, background: AXIS_BG, overflow: 'hidden' }}>
      <canvas ref={headRef} width={1691} height={22} style={{ position: 'absolute', left: 0, top: 0 }} />
      <canvas ref={mainRef} width={1691} height={468} style={{ position: 'absolute', left: 0, top: 22 }} />
      <canvas ref={subRef} width={1691} height={144} style={{ position: 'absolute', left: 0, top: 490 }} />
    </div>
  );
}
